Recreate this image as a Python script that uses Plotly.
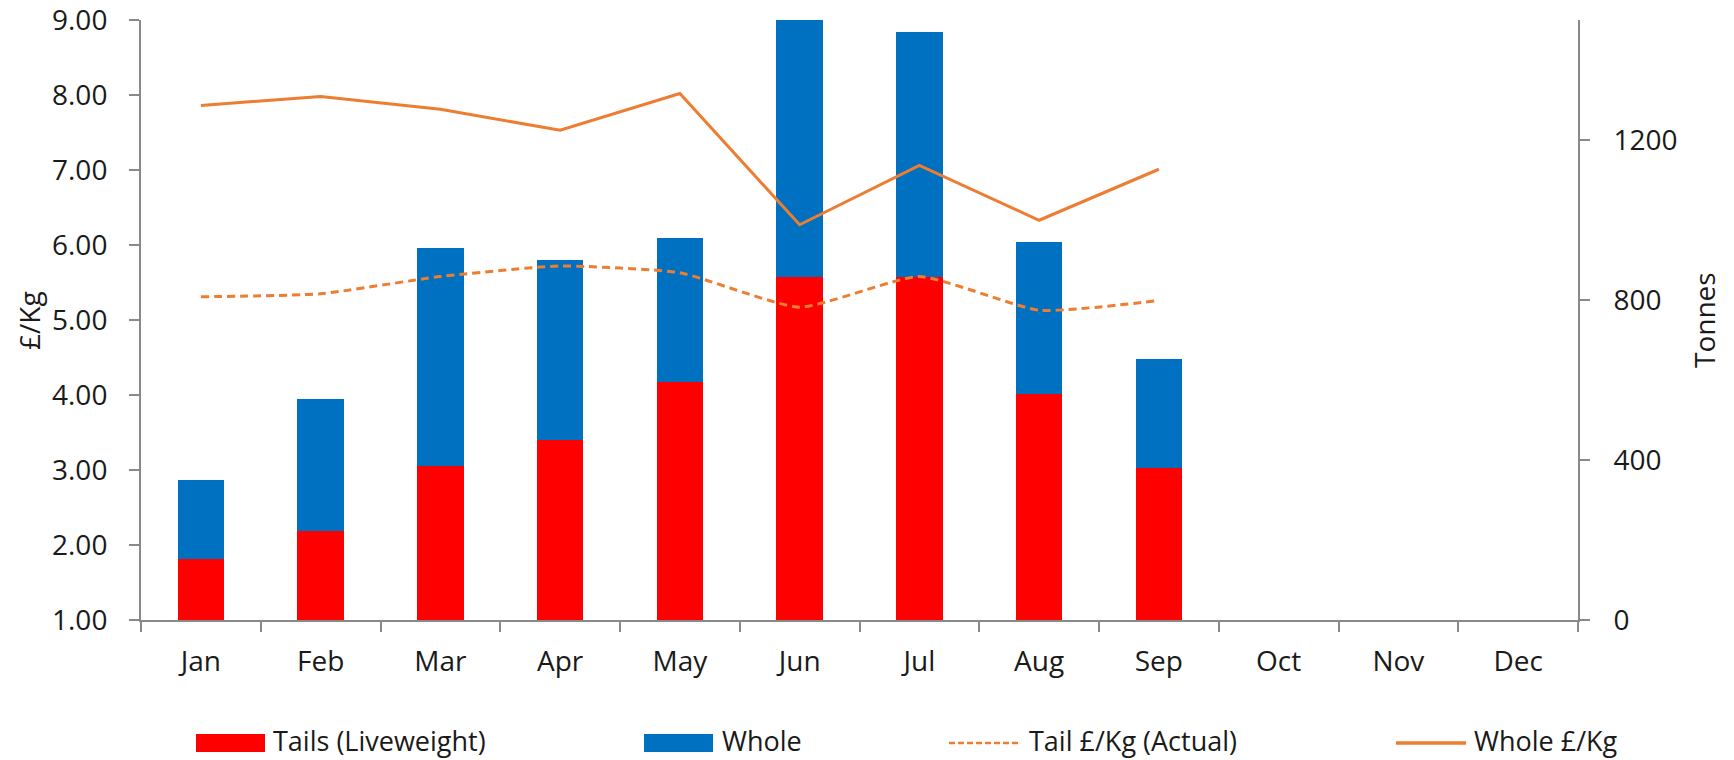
import plotly.graph_objects as go

months = ["Jan", "Feb", "Mar", "Apr", "May", "Jun", "Jul", "Aug", "Sep", "Oct", "Nov", "Dec"]
data_months = months[:9]
tails_tonnes = [152, 222, 386, 451, 595, 858, 858, 564, 380]
whole_tonnes = [199, 331, 543, 449, 361, 642, 612, 382, 273]
tail_price = [5.31, 5.35, 5.58, 5.72, 5.63, 5.17, 5.58, 5.13, 5.26]
whole_price = [7.86, 7.98, 7.81, 7.53, 8.02, 6.27, 7.06, 6.33, 7.01]
left_ticks = [1, 2, 3, 4, 5, 6, 7, 8, 9]
right_ticks = [0, 400, 800, 1200]

RED = "#FF0000"
BLUE = "#0070C0"
ORANGE = "#ED7D31"
AXIS = "#898989"
TXT = "#1a1a1a"
FONT = "Open Sans"
FS = 28

W, H = 1734, 760
L, R, T, B = 141, 156, 20, 140
PW, PH = W - L - R, H - T - B

fig = go.Figure()
fig.add_trace(go.Bar(x=data_months, y=tails_tonnes, name="Tails (Liveweight)",
                     marker=dict(color=RED, line=dict(width=0)), width=0.39,
                     yaxis="y", showlegend=False))
fig.add_trace(go.Bar(x=data_months, y=whole_tonnes, name="Whole",
                     marker=dict(color=BLUE, line=dict(width=0)), width=0.39,
                     yaxis="y", showlegend=False))
fig.add_trace(go.Scatter(x=data_months, y=tail_price, name="Tail £/Kg (Actual)", mode="lines",
                         line=dict(color=ORANGE, width=3, dash="8px,5px", shape="spline", smoothing=0.5),
                         yaxis="y2", showlegend=False))
fig.add_trace(go.Scatter(x=data_months, y=whole_price, name="Whole £/Kg", mode="lines",
                         line=dict(color=ORANGE, width=3),
                         yaxis="y2", showlegend=False))

def px_x(px):
    return (px - L) / PW

def px_y(py):
    return (H - B - py) / PH

shapes = []
annotations = []
leg_y = 740
legend_items = [
    ("rect", RED, 196, 265, 271, "Tails (Liveweight)"),
    ("rect", BLUE, 644, 713, 720, "Whole"),
    ("dash", ORANGE, 949, 1019, 1027, "Tail £/Kg (Actual)"),
    ("solid", ORANGE, 1396, 1466, 1472, "Whole £/Kg"),
]
for kind, col, x0, x1, tx, label in legend_items:
    if kind == "rect":
        shapes.append(dict(type="rect", xref="paper", yref="paper",
                           x0=px_x(x0), x1=px_x(x1), y0=px_y(leg_y + 12), y1=px_y(leg_y - 6),
                           fillcolor=col, line=dict(width=0)))
    else:
        shapes.append(dict(type="line", xref="paper", yref="paper",
                           x0=px_x(x0), x1=px_x(x1), y0=px_y(leg_y + 3), y1=px_y(leg_y + 3),
                           line=dict(color=col, width=3.5 if kind == "solid" else 2.5,
                                     dash="solid" if kind == "solid" else "6px,3px")))
    annotations.append(dict(text=label, xref="paper", yref="paper", x=px_x(tx), y=px_y(leg_y),
                            xanchor="left", yanchor="middle", showarrow=False,
                            font=dict(family=FONT, size=27, color=TXT)))

annotations.append(dict(text="£/Kg", xref="paper", yref="paper", x=px_x(29), y=0.5,
                        xanchor="center", yanchor="middle", textangle=-90, showarrow=False,
                        font=dict(family=FONT, size=FS, color=TXT)))
annotations.append(dict(text="Tonnes", xref="paper", yref="paper", x=px_x(1704), y=0.5,
                        xanchor="center", yanchor="middle", textangle=-90, showarrow=False,
                        font=dict(family=FONT, size=FS, color=TXT)))

fig.update_layout(
    width=W, height=H,
    margin=dict(l=L, r=R, t=T, b=B, autoexpand=False),
    paper_bgcolor="white", plot_bgcolor="white",
    barmode="stack", bargap=0.61,
    font=dict(family=FONT, size=FS, color=TXT),
    shapes=shapes, annotations=annotations,
    xaxis=dict(type="category", categoryorder="array", categoryarray=months,
               range=[-0.5, 11.5], showgrid=False, showline=True, linecolor=AXIS, linewidth=2,
               ticks="outside", ticklen=10, tickwidth=2, tickcolor=AXIS, tickson="boundaries",
               ticklabelstandoff=15, tickfont=dict(family=FONT, size=FS, color=TXT)),
    yaxis=dict(side="right", range=[0, 1500], tickvals=right_ticks, showgrid=False,
               showline=True, linecolor=AXIS, linewidth=2, ticks="outside", ticklen=10,
               tickwidth=2, tickcolor=AXIS, zeroline=False, ticklabelstandoff=18,
               ticklabeloverflow="allow",
               tickfont=dict(family=FONT, size=FS, color=TXT)),
    yaxis2=dict(side="left", overlaying="y", range=[1, 9], tickvals=left_ticks, tickformat=".2f",
                showgrid=False, showline=True, linecolor=AXIS, linewidth=2, ticks="outside",
                ticklen=10, tickwidth=2, tickcolor=AXIS, zeroline=False, ticklabelstandoff=16,
                ticklabeloverflow="allow",
                tickfont=dict(family=FONT, size=FS, color=TXT)),
)

fig.write_html("out.html", config={"displayModeBar": False},
               post_script="document.body.style.margin='0';document.body.style.overflow='hidden';")
